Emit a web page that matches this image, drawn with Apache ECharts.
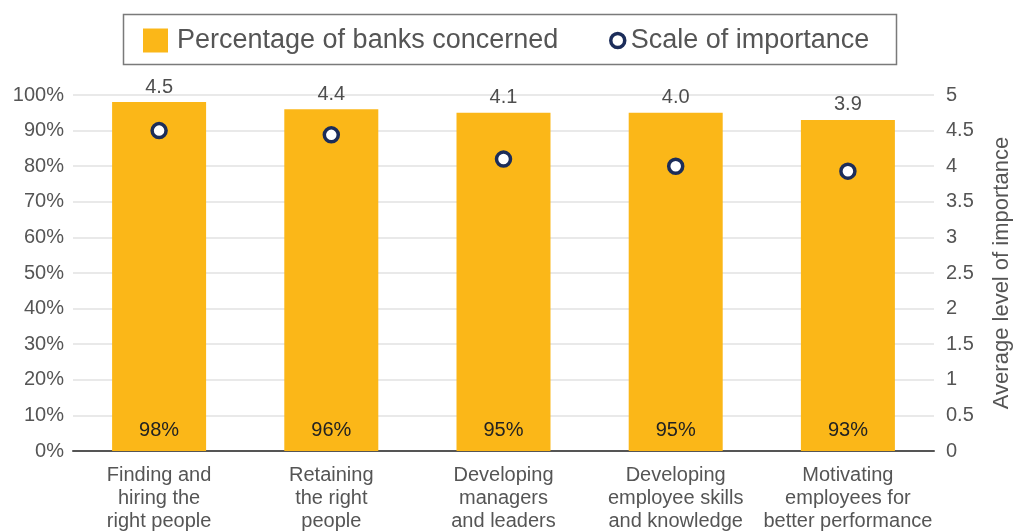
<!DOCTYPE html>
<html>
<head>
<meta charset="utf-8">
<script src="https://cdn.jsdelivr.net/npm/echarts@6/dist/echarts.min.js"></script>
<style>
  html, body { margin: 0; padding: 0; background: #fff; }
  #chart { width: 1014px; height: 531px; }
</style>
</head>
<body>
<div id="chart"></div>
<script>
var categories = [
  'Finding and\nhiring the\nright people',
  'Retaining\nthe right\npeople',
  'Developing\nmanagers\nand leaders',
  'Developing\nemployee skills\nand knowledge',
  'Motivating\nemployees for\nbetter performance'
];
var pctConcerned = [98, 96, 95, 95, 93];
var importance = [4.5, 4.44, 4.1, 4.0, 3.93];
var importanceLabels = ['4.5', '4.4', '4.1', '4.0', '3.9'];
var pctTicks = [0, 10, 20, 30, 40, 50, 60, 70, 80, 90, 100];

var FONT = '"Liberation Sans", Arial, sans-serif';
var chart = echarts.init(document.getElementById('chart'));

var option = {
  animation: false,
  textStyle: { fontFamily: FONT },
  graphic: [{
    type: 'rect',
    shape: { x: 123.5, y: 14.5, width: 773, height: 50 },
    style: { fill: 'none', stroke: '#7a7a7a', lineWidth: 1.5 },
    silent: true
  }],
  legend: [{
    left: 138, top: 22,
    itemWidth: 25, itemHeight: 24, itemGap: 14,
    icon: 'rect',
    data: ['Percentage of banks concerned'],
    textStyle: { fontSize: 27, color: '#555', fontFamily: FONT, padding: [0, 0, 0, 4] }
  }, {
    left: 604, top: 22,
    itemWidth: 14, itemHeight: 14, itemGap: 10,
    data: [{ name: 'Scale of importance', icon: 'circle' }],
    itemStyle: { borderWidth: 3.5 },
    textStyle: { fontSize: 27, color: '#555', fontFamily: FONT, padding: [0, 0, 0, 1] }
  }],
  grid: { left: 73, right: 80, top: 95, bottom: 80, outerBoundsMode: 'none' },
  xAxis: {
    type: 'category',
    data: categories,
    axisTick: { show: false },
    axisLine: { lineStyle: { color: '#555', width: 2 } },
    axisLabel: { interval: 0, margin: 13, fontSize: 20, lineHeight: 23, color: '#555', fontFamily: FONT }
  },
  yAxis: [{
    type: 'value',
    min: 0, max: 100, interval: 10,
    axisLabel: {
      fontSize: 20, color: '#555', margin: 9, fontFamily: FONT,
      formatter: function (v) { return pctTicks.indexOf(v) >= 0 ? v + '%' : ''; }
    },
    splitLine: { lineStyle: { color: '#e2e2e2', width: 1.5 } },
    axisLine: { show: false },
    axisTick: { show: false }
  }, {
    type: 'value',
    min: 0, max: 5, interval: 0.5,
    position: 'right',
    name: 'Average level of importance',
    nameLocation: 'middle',
    nameRotate: 90,
    nameGap: 57,
    nameTextStyle: { fontSize: 22, color: '#555', fontFamily: FONT },
    axisLabel: { fontSize: 20, color: '#555', margin: 12, fontFamily: FONT },
    splitLine: { show: false },
    axisLine: { show: false },
    axisTick: { show: false }
  }],
  series: [{
    name: 'Percentage of banks concerned',
    type: 'bar',
    yAxisIndex: 0,
    barWidth: 94,
    data: pctConcerned,
    itemStyle: { color: '#FBB718' },
    label: {
      show: true, position: 'insideBottom', distance: 11,
      fontSize: 20, color: '#222', fontFamily: FONT,
      formatter: '{c}%'
    }
  }, {
    name: 'barTop',
    type: 'scatter',
    yAxisIndex: 0,
    data: pctConcerned,
    symbolSize: 0,
    silent: true,
    label: {
      show: true, position: 'top', distance: 5,
      fontSize: 20, color: '#222', fontFamily: FONT,
      formatter: function (p) { return importanceLabels[p.dataIndex]; }
    }
  }, {
    name: 'Scale of importance',
    type: 'scatter',
    yAxisIndex: 1,
    data: importance,
    symbol: 'circle',
    symbolSize: 14,
    z: 5,
    itemStyle: { color: '#fff', borderColor: '#1c2d5a', borderWidth: 3.5, opacity: 1 }
  }]
};
chart.setOption(option);
</script>
</body>
</html>
